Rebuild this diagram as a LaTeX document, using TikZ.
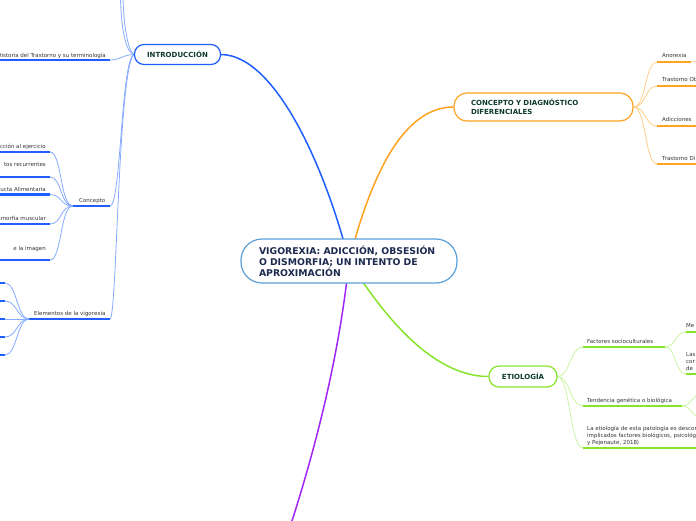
\documentclass[tikz,border=0pt]{standalone}
\usepackage{fontspec}
\setmainfont{DejaVu Sans}
\usetikzlibrary{backgrounds,calc}
\definecolor{cblue}{HTML}{1F5EFF}
\definecolor{cbluelt}{HTML}{85AAFF}
\definecolor{ccentral}{HTML}{5B9FD8}
\definecolor{cnavy}{HTML}{1B2A4E}
\definecolor{ctitle}{HTML}{0E3B2B}
\definecolor{corange}{HTML}{FFA21F}
\definecolor{corangelt}{HTML}{FFCF8A}
\definecolor{cgreen}{HTML}{86E52A}
\definecolor{cgreenlt}{HTML}{C9F5A3}
\definecolor{cpurple}{HTML}{A225F7}
\definecolor{cgray}{HTML}{333333}
\begin{document}
\begin{tikzpicture}[x=1pt,y=-1pt,
  mainbox/.style={draw=ccentral, fill=white, line width=1.2pt, rounded corners=21pt,
    minimum height=44pt, text width=180pt, inner xsep=18pt, inner ysep=0pt, align=left,
    font=\bfseries\fontsize{9.3}{11}\selectfont, text=cnavy},
  branch/.style={fill=white, line width=1.2pt, font=\bfseries\fontsize{7}{9}\selectfont,
    text=ctitle, inner sep=0pt},
  lbl/.style={font=\fontsize{5.5}{6.7}\selectfont, text=cgray, inner sep=0pt},
  mainline/.style={line width=1.5pt},
  thinline/.style={line width=0.8pt},
  uline/.style={line width=2.2pt},
]
\useasboundingbox (0,0) rectangle (696,520);

% ---------- main nodes ----------
\node[mainbox] (center) at (349,261) {VIGOREXIA: ADICCIÓN, OBSESIÓN\\O DISMORFIA; UN INTENTO DE\\APROXIMACIÓN};
\node[branch, draw=cblue, minimum width=86pt, minimum height=20pt, rounded corners=9.5pt] (intro) at (177.5,54.5) {INTRODUCCIÓN};
\node[branch, draw=corange, text width=145pt, inner xsep=17pt, minimum height=28pt, rounded corners=13pt, align=left] (concept) at (543.5,107) {CONCEPTO Y DIAGNÓSTICO\\DIFERENCIALES};
\node[branch, draw=cgreen, minimum width=68pt, minimum height=21pt, rounded corners=10pt] (etio) at (523,376.5) {ETIOLOGÍA};
\coordinate (purpleEnd) at (291,524);

% ---------- left (introduccion) ----------
\coordinate (top1) at (120.5,-2);
\coordinate (top2) at (123,-2);
\coordinate (hisL) at (0,60);   \coordinate (hisR) at (110,60);
\coordinate (conL) at (73,206); \coordinate (conR) at (110,206);
\coordinate (eleL) at (29,319); \coordinate (eleR) at (110,319);
\node[lbl, anchor=base east] (his) at (106,57) {Historia del Trastorno y su terminología};
\node[lbl, anchor=base west] (con) at (79,202) {Concepto};
\node[lbl, anchor=base west] (ele) at (34,315) {Elementos de la vigorexia};

\coordinate (k1L) at (-2,152); \coordinate (k1R) at (50,152);
\coordinate (k2L) at (-2,177); \coordinate (k2R) at (50,177);
\coordinate (k3L) at (-2,194.5); \coordinate (k3R) at (50,194.5);
\coordinate (k4L) at (-2,224); \coordinate (k4R) at (50,224);
\coordinate (k5L) at (-2,260); \coordinate (k5R) at (50,260);
\node[lbl, anchor=base east] (k1) at (46,148) {cción al ejercicio};
\node[lbl, anchor=base east] (k2) at (46,166) {tos recurrentes};
\node[lbl, anchor=base east] (k3) at (46,191) {ducta Alimentaria};
\node[lbl, anchor=base east] (k4) at (46,220) {smorfia muscular};
\node[lbl, anchor=base east] (k5) at (46,250) {e la imagen};

\coordinate (e1L) at (-2,283); \coordinate (e1R) at (5,283);
\coordinate (e2L) at (-2,301); \coordinate (e2R) at (5,301);
\coordinate (e3L) at (-2,319); \coordinate (e3R) at (5,319);
\coordinate (e4L) at (-2,337); \coordinate (e4R) at (5,337);
\coordinate (e5L) at (-2,355); \coordinate (e5R) at (5,355);

% ---------- right top (concepto) ----------
\coordinate (anoL) at (657,62);  \coordinate (anoR) at (691,62); \coordinate (anoX) at (700,61);
\coordinate (tocL) at (657,86);  \coordinate (tocR) at (700,86);
\coordinate (adiL) at (657,126); \coordinate (adiR) at (700,126);
\coordinate (tdiL) at (657,164); \coordinate (tdiR) at (700,164);
\node[lbl, anchor=base west] (ano) at (662,57) {Anorexia};
\node[lbl, anchor=base west] (toc) at (662,81) {Trastorno Ob};
\node[lbl, anchor=base west] (adi) at (662,121) {Adicciones};
\node[lbl, anchor=base west] (tdi) at (662,160) {Trastorno Di};

% ---------- right bottom (etiologia) ----------
\coordinate (facL) at (583,347); \coordinate (facR) at (665,347);
\coordinate (tenL) at (583,406); \coordinate (tenR) at (682,406);
\coordinate (etL)  at (583,448); \coordinate (etR)  at (700,448);
\coordinate (meL)  at (686,332); \coordinate (meR)  at (700,332);
\coordinate (lasL) at (686,374); \coordinate (lasR) at (700,374);
\coordinate (ten1) at (704,393); \coordinate (ten2) at (704,419);
\node[lbl, anchor=base west] (fac) at (587,343) {Factores socioculturales};
\node[lbl, anchor=base west] (ten) at (587,402) {Tendencia genética o biológica};
\node[lbl, anchor=base west, align=left] (et) at (587,444) {La etiología de esta patología es descon\\implicados factores biológicos, psicológ\\y Pejenaute, 2018)};
\node[lbl, anchor=base west] (me) at (686,327) {Me};
\node[lbl, anchor=base west, align=left] (las) at (686,370) {Las\\cor\\de};

% ---------- connectors ----------
\begin{pgfonlayer}{background}
  % main branches
  \draw[mainline, cblue] (center.center) .. controls (326,170) and (276,55) .. (intro.east);
  \draw[mainline, corange] (center.center) .. controls (365,200) and (395,107) .. (concept.west);
  \draw[mainline, cgreen] (center.center) .. controls (380,310) and (430,376.5) .. (etio.west);
  \draw[mainline, cpurple] (center.center) .. controls (340,350) and (318,440) .. (purpleEnd);

  % introduccion children
  \draw[thinline, cbluelt] (intro.west) .. controls (124,52) and (121,20) .. (top1);
  \draw[thinline, cbluelt] (intro.west) .. controls (127,50) and (123.5,20) .. (top2);
  \draw[thinline, cbluelt] (intro.west) .. controls (122,55) and (120,60) .. (hisR);
  \draw[thinline, cbluelt] (intro.west) .. controls (121,60) and (121,206) .. (conR);
  \draw[thinline, cbluelt] (intro.west) .. controls (118,70) and (117,319) .. (eleR);
  \draw[uline, cblue] (hisL) -- (hisR);
  \draw[uline, cblue] (conL) -- (conR);
  \draw[uline, cblue] (eleL) -- (eleR);

  \foreach \k in {k1,k2,k3,k4,k5}{
    \draw[thinline, cbluelt] (conL) .. controls (60,206) and ($(\k R)+(12,0)$) .. (\k R);
    \draw[uline, cblue] (\k L) -- (\k R);
  }
  \foreach \k in {e1,e2,e3,e4,e5}{
    \draw[thinline, cbluelt] (eleL) .. controls (17,319) and ($(\k R)+(12,0)$) .. (\k R);
    \draw[uline, cblue] (\k L) -- (\k R);
  }

  % concepto children
  \foreach \k in {ano,toc,adi,tdi}{
    \draw[thinline, corangelt] (concept.east) .. controls (646,107) and ($(\k L)+(-12,0)$) .. (\k L);
  }
  \draw[uline, corange] (anoL) -- (anoR);
  \draw[thinline, corangelt] (anoR) -- (anoX);
  \draw[uline, corange] (tocL) -- (tocR);
  \draw[uline, corange] (adiL) -- (adiR);
  \draw[uline, corange] (tdiL) -- (tdiR);

  % etiologia children
  \foreach \k in {fac,ten,et}{
    \draw[thinline, cgreenlt] (etio.east) .. controls (570,376.5) and ($(\k L)+(-13,0)$) .. (\k L);
    \draw[uline, cgreen] (\k L) -- (\k R);
  }
  \draw[thinline, cgreenlt] (facR) .. controls (676,347) and (675,332) .. (meL);
  \draw[thinline, cgreenlt] (facR) .. controls (676,347) and (675,374) .. (lasL);
  \draw[uline, cgreen] (meL) -- (meR);
  \draw[uline, cgreen] (lasL) -- (lasR);
  \draw[thinline, cgreenlt] (tenR) .. controls (692,406) and (692,393) .. (ten1);
  \draw[thinline, cgreenlt] (tenR) .. controls (692,406) and (692,419) .. (ten2);
\end{pgfonlayer}
\end{tikzpicture}
\end{document}
